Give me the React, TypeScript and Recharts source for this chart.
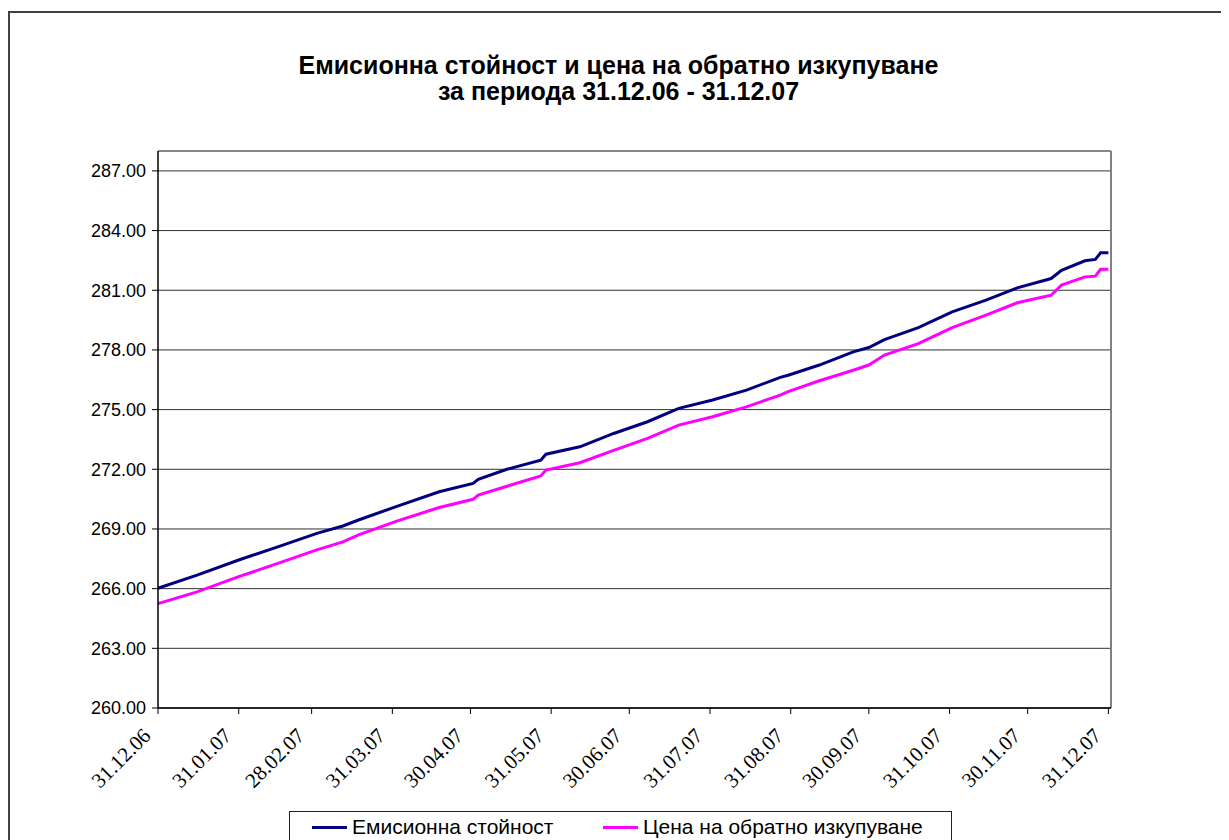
import { LineChart, Line, XAxis, YAxis, CartesianGrid, ReferenceLine } from "recharts"

// readings taken roughly every two weeks, plus the visible jumps
const dates = [
  "31.12.06", "15.01.07", "31.01.07", "15.02.07", "02.03.07", "12.03.07", "18.03.07",
  "02.04.07", "18.04.07", "01.05.07", "03.05.07", "14.05.07", "27.05.07", "29.05.07",
  "11.06.07", "24.06.07", "07.07.07", "19.07.07", "01.08.07", "14.08.07", "27.08.07",
  "30.08.07", "11.09.07", "24.09.07", "30.09.07", "06.10.07", "19.10.07", "01.11.07",
  "14.11.07", "26.11.07", "09.12.07", "13.12.07", "22.12.07", "26.12.07", "28.12.07",
  "31.12.07",
]

const emission = [
  266.02, 266.68, 267.44, 268.1, 268.78, 269.15, 269.45,
  270.15, 270.87, 271.29, 271.5, 272.0, 272.46, 272.76,
  273.13, 273.8, 274.39, 275.06, 275.48, 275.98, 276.62,
  276.73, 277.24, 277.9, 278.12, 278.52, 279.12, 279.91,
  280.5, 281.12, 281.59, 282.0, 282.48, 282.55, 282.88,
  282.88,
]

const redemption = [
  265.25, 265.84, 266.6, 267.27, 267.95, 268.35, 268.7,
  269.41, 270.08, 270.49, 270.7, 271.15, 271.66, 271.96,
  272.33, 272.95, 273.55, 274.22, 274.64, 275.14, 275.73,
  275.9, 276.45, 276.98, 277.24, 277.74, 278.32, 279.12,
  279.75, 280.37, 280.75, 281.26, 281.67, 281.71, 282.05,
  282.05,
]

const tickDates = [
  "31.12.06", "31.01.07", "28.02.07", "31.03.07", "30.04.07", "31.05.07", "30.06.07",
  "31.07.07", "31.08.07", "30.09.07", "31.10.07", "30.11.07", "31.12.07",
]

const yTicks = [260, 263, 266, 269, 272, 275, 278, 281, 284, 287]

const seriesNames = ["Емисионна стойност", "Цена на обратно изкупуване"]
const seriesColors = ["#000080", "#FF00FF"]

const titleLines = ["Емисионна стойност и цена на обратно изкупуване", "за периода 31.12.06 - 31.12.07"]

// days since 31.12.06
const toDay = (s: string) => {
  const [d, m, y] = s.split(".").map(Number)
  return Math.round((Date.UTC(2000 + y, m - 1, d) - Date.UTC(2006, 11, 31)) / 86400000)
}

const data = dates.map((d, i) => ({ day: toDay(d), emission: emission[i], redemption: redemption[i] }))
const tickDays = tickDates.map(toDay)

function DateTick(props: any) {
  const { x, y, payload } = props
  const label = tickDates[tickDays.indexOf(payload.value)]
  const px = x - 6
  const py = y + 21
  return (
    <text
      x={px}
      y={py}
      transform={`rotate(-45 ${px} ${py})`}
      textAnchor="end"
      fontFamily="Liberation Serif, Times New Roman, DejaVu Serif, serif"
      fontSize={21}
      fill="#000"
    >
      {label}
    </text>
  )
}

export default function App() {
  return (
    <div style={{ position: "relative", width: 1221, height: 832, overflow: "hidden", fontFamily: "'Liberation Sans', Arial, sans-serif" }}>
      <div style={{ position: "absolute", left: 0, top: 3, width: 1300, height: 900, border: "2px solid #404040", boxSizing: "border-box" }} />
      <div style={{ position: "absolute", left: 0, top: 44, width: 1221, textAlign: "center", fontWeight: "bold", fontSize: 25, lineHeight: "26px", color: "#000" }}>
        {titleLines.map((t) => (
          <div key={t}>{t}</div>
        ))}
      </div>
      <div style={{ position: "absolute", left: 0, top: 0 }}>
        <LineChart width={1221} height={832} data={data} margin={{ top: 143, right: 118, bottom: 32, left: 0 }}>
          <CartesianGrid vertical={false} stroke="#333" strokeWidth={1} />
          <XAxis
            dataKey="day"
            type="number"
            domain={[0, 366]}
            ticks={tickDays}
            interval={0}
            tick={<DateTick />}
            tickSize={6}
            height={100}
            stroke="#000"
            axisLine={{ stroke: "#000", strokeWidth: 1.5 }}
            tickLine={{ stroke: "#000" }}
          />
          <YAxis
            type="number"
            domain={[260, 288]}
            ticks={yTicks}
            interval={0}
            width={150}
            tickSize={6}
            tickMargin={6}
            tickFormatter={(v: number) => v.toFixed(2)}
            tick={{ fill: "#000", fontSize: 18, fontFamily: "'Liberation Sans', Arial, sans-serif" }}
            axisLine={{ stroke: "#000", strokeWidth: 1.5 }}
            tickLine={{ stroke: "#000" }}
          />
          <ReferenceLine y={288} stroke="#808080" strokeWidth={1.5} />
          <ReferenceLine x={366} stroke="#808080" strokeWidth={2} />
          <Line type="linear" dataKey="emission" stroke={seriesColors[0]} strokeWidth={3} dot={false} isAnimationActive={false} />
          <Line type="linear" dataKey="redemption" stroke={seriesColors[1]} strokeWidth={3} dot={false} isAnimationActive={false} />
        </LineChart>
      </div>
      <div
        style={{
          position: "absolute",
          left: 281,
          top: 803,
          width: 663,
          height: 60,
          border: "1.5px solid #222",
          boxSizing: "border-box",
          background: "#fff",
        }}
      >
        {seriesNames.map((name, i) => (
          <div key={name} style={{ position: "absolute", left: i === 0 ? 22 : 313, top: 3, display: "flex", alignItems: "center", fontSize: 21, color: "#000", whiteSpace: "nowrap" }}>
            <span style={{ display: "inline-block", width: 35, height: 3, background: seriesColors[i], marginRight: 5 }} />
            {name}
          </div>
        ))}
      </div>
    </div>
  )
}
